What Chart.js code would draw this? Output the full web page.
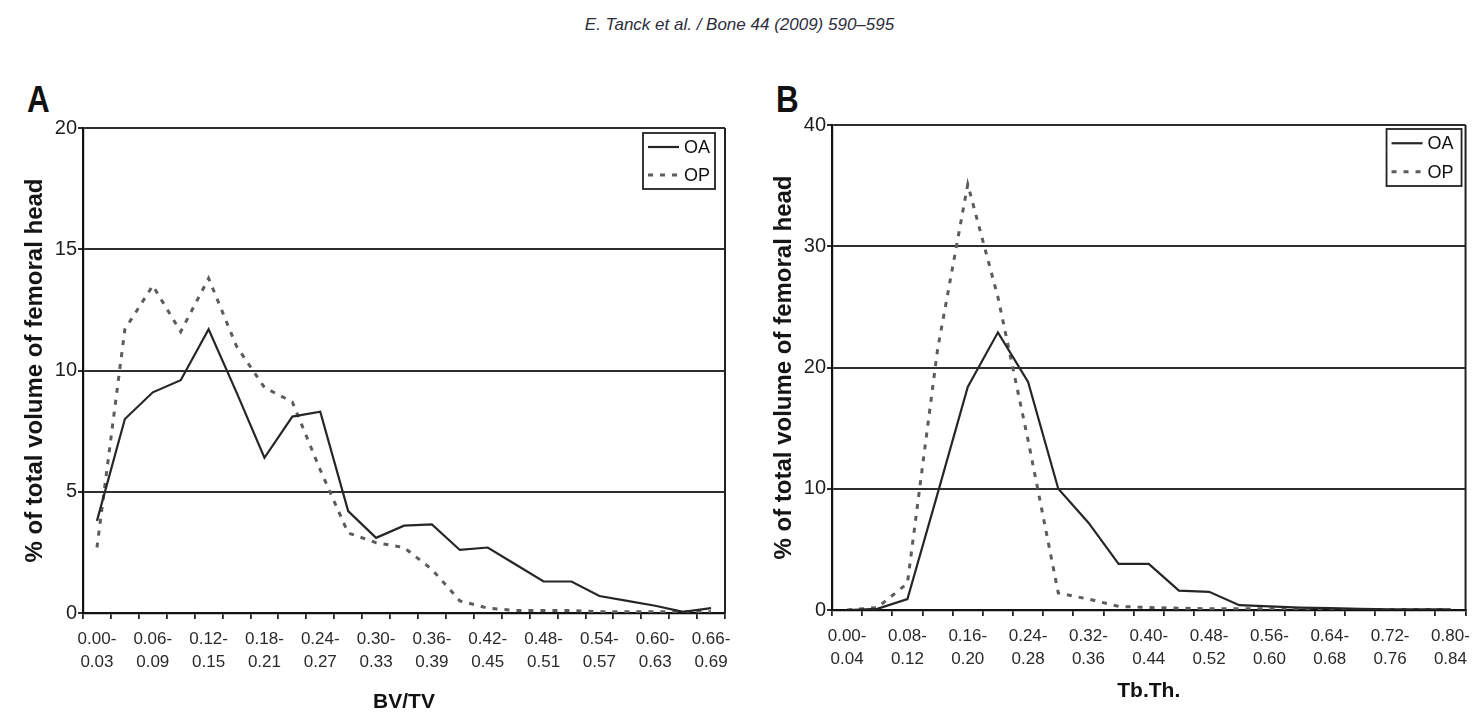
<!DOCTYPE html>
<html>
<head>
<meta charset="utf-8">
<title>Tanck et al. 2009 - BV/TV and Tb.Th. distributions</title>
<script src="https://cdn.jsdelivr.net/npm/chart.js@4.4.0/dist/chart.umd.min.js"></script>
<style>
    html, body { margin: 0; padding: 0; background: #fff; }
    body { width: 1479px; height: 716px; position: relative; overflow: hidden; font-family: 'Liberation Sans', Arial, sans-serif; }
    .header { position: absolute; top: 15px; left: 0; width: 1479px; line-height: 20px; text-align: center; font-style: italic; font-size: 17px; color: #2d2d3c; }
    .panel { position: absolute; top: 81px; font-size: 37px; line-height: 38px; font-weight: bold; color: #111; transform: scaleX(0.85); transform-origin: left top; }
    canvas { position: absolute; top: 0; }
</style>
</head>
<body>
<div class="header">E. Tanck et al. / Bone 44 (2009) 590–595</div>
<div class="panel" style="left:27px;">A</div>
<div class="panel" style="left:776px;">B</div>
<canvas id="chart-bvtv" width="740" height="716" style="left:0"></canvas>
<canvas id="chart-tbth" width="739" height="716" style="left:740px"></canvas>
<script>
// ===== DADOS =====

// Painel A: BV/TV
const bvtvBins = [
    '0.00-0.03', '0.03-0.06', '0.06-0.09', '0.09-0.12', '0.12-0.15', '0.15-0.18',
    '0.18-0.21', '0.21-0.24', '0.24-0.27', '0.27-0.30', '0.30-0.33', '0.33-0.36',
    '0.36-0.39', '0.39-0.42', '0.42-0.45', '0.45-0.48', '0.48-0.51', '0.51-0.54',
    '0.54-0.57', '0.57-0.60', '0.60-0.63', '0.63-0.66', '0.66-0.69'
];
const bvtvOA = [3.8, 8.0, 9.1, 9.6, 11.7, 9.1, 6.4, 8.1, 8.3, 4.2, 3.1, 3.6, 3.65, 2.6, 2.7, 2.0, 1.3, 1.3, 0.7, 0.5, 0.3, 0.05, 0.2];
const bvtvOP = [2.7, 11.7, 13.5, 11.6, 13.8, 11.0, 9.3, 8.7, 5.9, 3.3, 2.9, 2.7, 1.8, 0.5, 0.2, 0.1, 0.1, 0.1, 0.05, 0.05, 0.05, 0.05, 0.05];
const bvtvTicks = [0, 5, 10, 15, 20];

// Painel B: Tb.Th.
const tbthBins = [
    '0.00-0.04', '0.04-0.08', '0.08-0.12', '0.12-0.16', '0.16-0.20', '0.20-0.24',
    '0.24-0.28', '0.28-0.32', '0.32-0.36', '0.36-0.40', '0.40-0.44', '0.44-0.48',
    '0.48-0.52', '0.52-0.56', '0.56-0.60', '0.60-0.64', '0.64-0.68', '0.68-0.72',
    '0.72-0.76', '0.76-0.80', '0.80-0.84'
];
const tbthOA = [0, 0.1, 0.9, 9.6, 18.4, 22.9, 18.8, 10.0, 7.2, 3.8, 3.8, 1.6, 1.5, 0.4, 0.3, 0.2, 0.15, 0.1, 0.05, 0.05, 0.05];
const tbthOP = [0, 0.2, 2.2, 21.5, 35.1, 25.8, 14.0, 1.4, 0.9, 0.3, 0.2, 0.15, 0.1, 0.1, 0.1, 0.1, 0.05, 0.05, 0.05, 0.05, 0.05];
const tbthTicks = [0, 10, 20, 30, 40];

const yTitle = '% of total volume of femoral head';

Chart.defaults.font.family = "'Liberation Sans', Arial, sans-serif";
Chart.defaults.color = '#222';

// ===== LEGENDA COM CAIXA + MOLDURA DIREITA =====

const boxedLegend = {
    id: 'boxedLegend',
    afterDraw(chart, args, opts) {
        const { ctx, chartArea } = chart;
        ctx.save();

        // moldura direita do gráfico
        ctx.strokeStyle = '#222';
        ctx.lineWidth = 2;
        ctx.beginPath();
        ctx.moveTo(chartArea.right, chartArea.top);
        ctx.lineTo(chartArea.right, chartArea.bottom);
        ctx.stroke();

        const x = chartArea.right - opts.offsetRight - opts.width;
        const y = chartArea.top + opts.offsetTop;
        ctx.fillStyle = '#fff';
        ctx.fillRect(x, y, opts.width, opts.height);
        ctx.lineWidth = 1.8;
        ctx.strokeRect(x, y, opts.width, opts.height);

        ctx.font = "18px 'Liberation Sans', Arial, sans-serif";
        ctx.textBaseline = 'middle';
        const sets = chart.data.datasets;
        sets.forEach((ds, i) => {
            const rowY = y + opts.height * (i + 0.5) / sets.length;
            ctx.strokeStyle = ds.borderColor;
            ctx.lineWidth = ds.borderWidth;
            ctx.setLineDash(ds.borderDash || []);
            ctx.beginPath();
            ctx.moveTo(x + 5, rowY);
            ctx.lineTo(x + 36, rowY);
            ctx.stroke();
            ctx.setLineDash([]);
            ctx.fillStyle = '#111';
            ctx.fillText(ds.label, x + 41, rowY + 1);
        });
        ctx.restore();
    }
};

// ===== CRIAÇÃO DOS GRÁFICOS =====

const makeChart = (canvasId, cfg) => {
    return new Chart(document.getElementById(canvasId), {
        type: 'line',
        data: {
            labels: cfg.bins,
            datasets: [
                { label: 'OA', data: cfg.oa, borderColor: '#262626', borderWidth: 2.2, pointRadius: 0, tension: 0, fill: false },
                { label: 'OP', data: cfg.op, borderColor: '#5c5c5c', borderWidth: 3, borderDash: [5, 7], pointRadius: 0, tension: 0, fill: false }
            ]
        },
        options: {
            responsive: false,
            animation: false,
            layout: { padding: { top: cfg.top, right: cfg.right, left: 0, bottom: 0 } },
            plugins: {
                legend: { display: false },
                tooltip: { enabled: false },
                boxedLegend: cfg.legend
            },
            scales: {
                x: {
                    offset: true,
                    grid: { offset: true, drawOnChartArea: false, drawTicks: true, tickLength: 6, color: '#222', lineWidth: 1.8 },
                    border: { color: '#111', width: 2.2 },
                    ticks: {
                        autoSkip: false,
                        maxRotation: 0,
                        padding: 9,
                        color: '#2a2a2a',
                        font: { size: 17, lineHeight: 1.35 },
                        callback: function (value, index) {
                            if (index % 2 !== 0) return '';
                            const parts = this.getLabelForValue(value).split('-');
                            return [parts[0] + '-', parts[1]];
                        }
                    },
                    title: { display: true, text: cfg.xTitle, color: '#111', font: { size: 21, weight: 'bold' }, padding: { top: 0, bottom: cfg.xTitlePad } },
                    afterFit: (scale) => { scale.height = cfg.xHeight; }
                },
                y: {
                    min: 0,
                    max: cfg.yTicks[cfg.yTicks.length - 1],
                    afterBuildTicks: (scale) => { scale.ticks = cfg.yTicks.map(v => ({ value: v })); },
                    ticks: { padding: 1, color: '#1e1e1e', font: { size: 20 } },
                    grid: { color: '#2e2e2e', lineWidth: 2, tickLength: 5 },
                    border: { color: '#111', width: 2.2 },
                    title: { display: true, text: yTitle, color: '#151515', font: { size: 24, weight: 'bold' }, padding: { top: cfg.yTitlePad, bottom: 0 } },
                    afterFit: (scale) => { scale.width = cfg.yWidth; }
                }
            }
        },
        plugins: [boxedLegend]
    });
};

makeChart('chart-bvtv', {
    bins: bvtvBins, oa: bvtvOA, op: bvtvOP, yTicks: bvtvTicks,
    xTitle: 'BV/TV', xTitlePad: 1, xHeight: 103,
    top: 128, right: 15, yWidth: 83, yTitlePad: 21,
    legend: { width: 72, height: 56, offsetRight: 10, offsetTop: 5 }
});

makeChart('chart-tbth', {
    bins: tbthBins, oa: tbthOA, op: tbthOP, yTicks: tbthTicks,
    xTitle: 'Tb.Th.', xTitlePad: 12, xHeight: 106,
    top: 125, right: 7, yWidth: 92, yTitlePad: 30,
    legend: { width: 75, height: 57, offsetRight: 4, offsetTop: 4 }
});
</script>
</body>
</html>
